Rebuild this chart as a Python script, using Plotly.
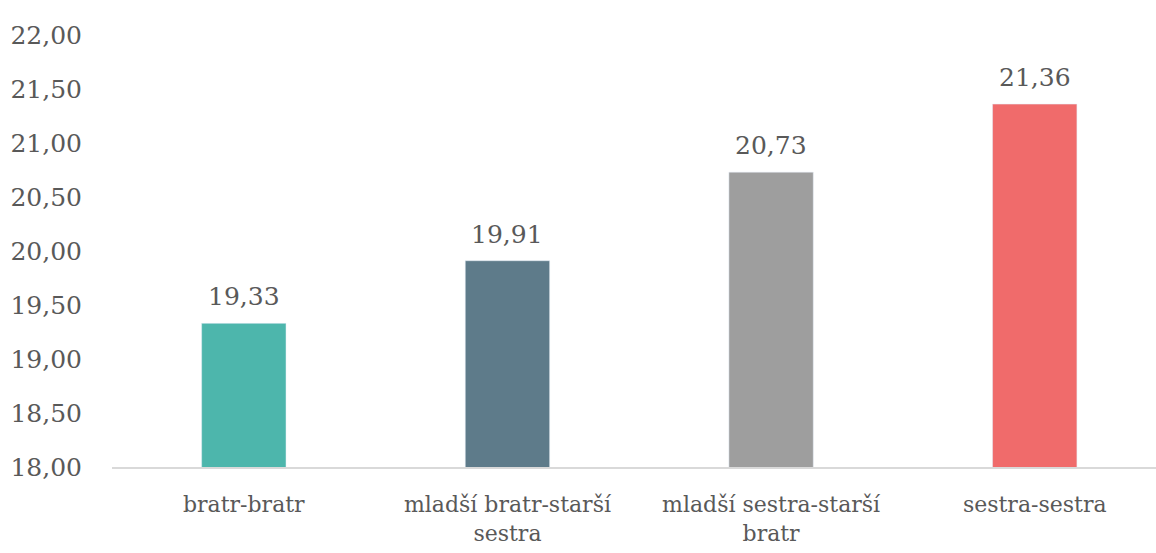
import plotly.graph_objects as go

# data
categories = ["bratr-bratr", "mladší bratr-starší<br>sestra",
              "mladší sestra-starší<br>bratr", "sestra-sestra"]
values = [19.33, 19.91, 20.73, 21.36]
colors = ["#4DB6AC", "#5E7B8A", "#9E9E9E", "#F06B6B"]
y_ticks = [18, 18.5, 19, 19.5, 20, 20.5, 21, 21.5, 22]

FONT = "DejaVu Serif"
TXT = "#595959"

fig = go.Figure()
fig.add_trace(go.Bar(
    x=categories,
    y=values,
    marker_color=colors,
    width=0.32,
    hoverinfo="skip",
))

# popisky hodnot nad sloupci
for c, v in zip(categories, values):
    fig.add_annotation(
        x=c, y=v, text=f"{v:.2f}".replace(".", ","),
        showarrow=False, yanchor="bottom", yshift=10,
        font=dict(family=FONT, size=25, color=TXT),
    )

fig.update_layout(
    width=1156, height=553,
    margin=dict(l=112, r=0, t=35, b=86),
    plot_bgcolor="white",
    paper_bgcolor="white",
    separators=", ",
    showlegend=False,
    font=dict(family=FONT, size=25, color=TXT),
)
fig.update_xaxes(
    range=[-0.5, 3.46],
    showline=True, linecolor="#D9D9D9", linewidth=2,
    showgrid=False, ticks="",
    tickfont=dict(family=FONT, size=22, color=TXT),
    ticklabelstandoff=17,
    automargin=False,
)
fig.update_yaxes(
    range=[18, 22],
    tickvals=y_ticks,
    tickformat=".2f",
    showgrid=False, zeroline=False, showline=False,
    tickfont=dict(family=FONT, size=25, color=TXT),
    ticklabelstandoff=29,
    automargin=False,
)

fig.write_html("out.html", config={"displayModeBar": False},
               post_script="document.body.style.margin='0';")
